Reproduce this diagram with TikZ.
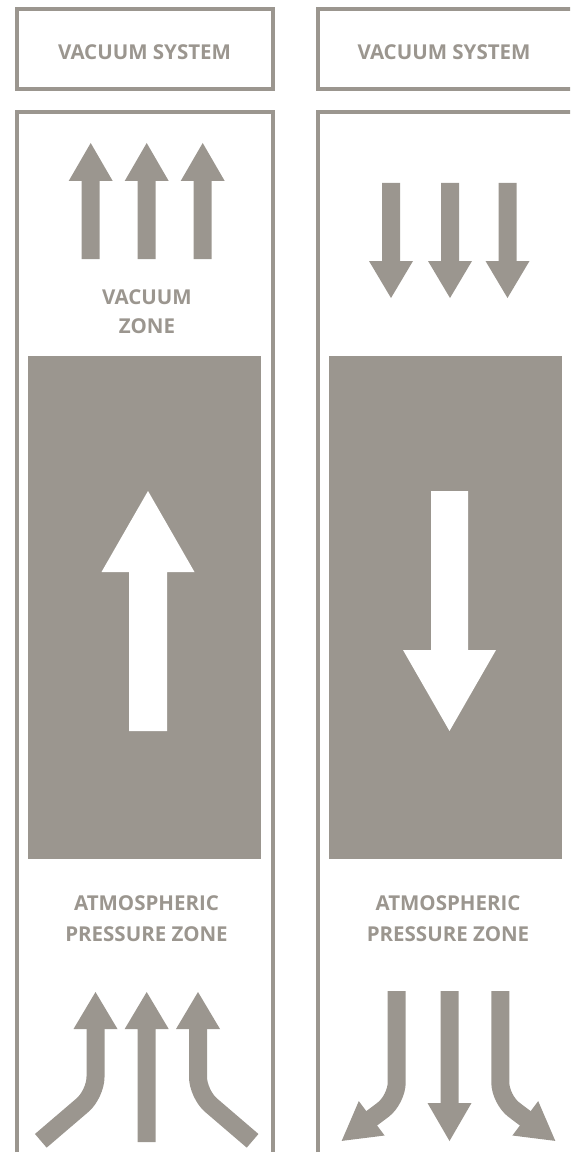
\documentclass[tikz,border=0pt]{standalone}
\usepackage{fontspec}
\setmainfont{Open Sans}
\definecolor{ink}{RGB}{155,150,143}
% block arrow: [colour] x, tip y, head-base y, end y, head half width, shaft half width
\newcommand\BlkArrow[7][ink]{\fill[#1] (#2,#3) -- ({#2+#6},#4) -- ({#2+#7},#4) -- ({#2+#7},#5) -- ({#2-#7},#5) -- ({#2-#7},#4) -- ({#2-#6},#4) -- cycle;}
\begin{document}
\begin{tikzpicture}[x=1pt,y=-1pt,
  frame/.style={draw=ink,line width=4pt,line join=miter},
  lbl/.style={text=ink,font=\bfseries\fontsize{20.5}{24}\selectfont,anchor=base,inner sep=0pt},
  shaft/.style={draw=ink,line width=18pt,line cap=butt,rounded corners=17pt},
  head/.style={fill=ink}]
\useasboundingbox (0,0) rectangle (570,1161);
\clip (0,0) rectangle (570,1161);
% ---------- left panel ----------
\draw[frame] (16.5,9.5) rectangle (272.5,89.5);
\node[lbl] (vsL) at (144.5,59.5) {VACUUM SYSTEM};
\draw[frame] (16.5,1152) -- (16.5,112.5) -- (272.5,112.5) -- (272.5,1152);
\BlkArrow{90.7}{143}{181}{259}{22}{9}
\BlkArrow{146.7}{143}{181}{259}{22}{9}
\BlkArrow{202.7}{143}{181}{259}{22}{9}
\node[lbl] (vz1) at (147,304.5) {VACUUM};
\node[lbl] (vz2) at (147,333) {ZONE};
\fill[ink] (28,356) rectangle (261,859);
\BlkArrow[white]{148}{491}{572}{731}{46.5}{19}
\node[lbl] (apL1) at (146.5,910.5) {ATMOSPHERIC};
\node[lbl] (apL2) at (146.5,941.5) {PRESSURE ZONE};
% bottom arrows (converging upward)
\BlkArrow{146.7}{992}{1029}{1142}{22}{9}
\fill[head] (95.5,992) -- (117.5,1029) -- (73.5,1029) -- cycle;
\draw[shaft] (95.5,1027) -- (95.5,1094) -- (40.8,1140.8);
\fill[head] (198,992) -- (220,1029) -- (176,1029) -- cycle;
\draw[shaft] (198,1027) -- (198,1094) -- (252.6,1140.8);
% ---------- right panel (cut by the right page edge) ----------
\draw[frame] (580,9.5) -- (317.5,9.5) -- (317.5,89.5) -- (580,89.5);
\node[lbl] (vsR) at (444,59.5) {VACUUM SYSTEM};
\draw[frame] (317.5,1152) -- (317.5,112.5) -- (580,112.5);
\BlkArrow{391}{298}{261}{183}{22}{9}
\BlkArrow{450}{298}{261}{183}{22}{9}
\BlkArrow{507.5}{298}{261}{183}{22}{9}
\fill[ink] (329,356) rectangle (562,859);
\BlkArrow[white]{449.5}{731}{650}{491}{46.5}{18.5}
\node[lbl] (apR1) at (448,910.5) {ATMOSPHERIC};
\node[lbl] (apR2) at (448,941.5) {PRESSURE ZONE};
% bottom arrows (diverging downward)
\BlkArrow{449.5}{1141}{1103}{991}{22}{9}
\draw[shaft] (396.7,991) -- (396.7,1099.5) -- (370.1,1119.5);
\fill[head] (341.7,1140.9) -- (384.6,1135.5) -- (358.8,1101.1) -- cycle;
\draw[shaft] (500.3,991) -- (500.3,1099.5) -- (526.9,1119.5);
\fill[head] (555.3,1140.9) -- (512.4,1135.5) -- (538.2,1101.1) -- cycle;
\end{tikzpicture}
\end{document}
